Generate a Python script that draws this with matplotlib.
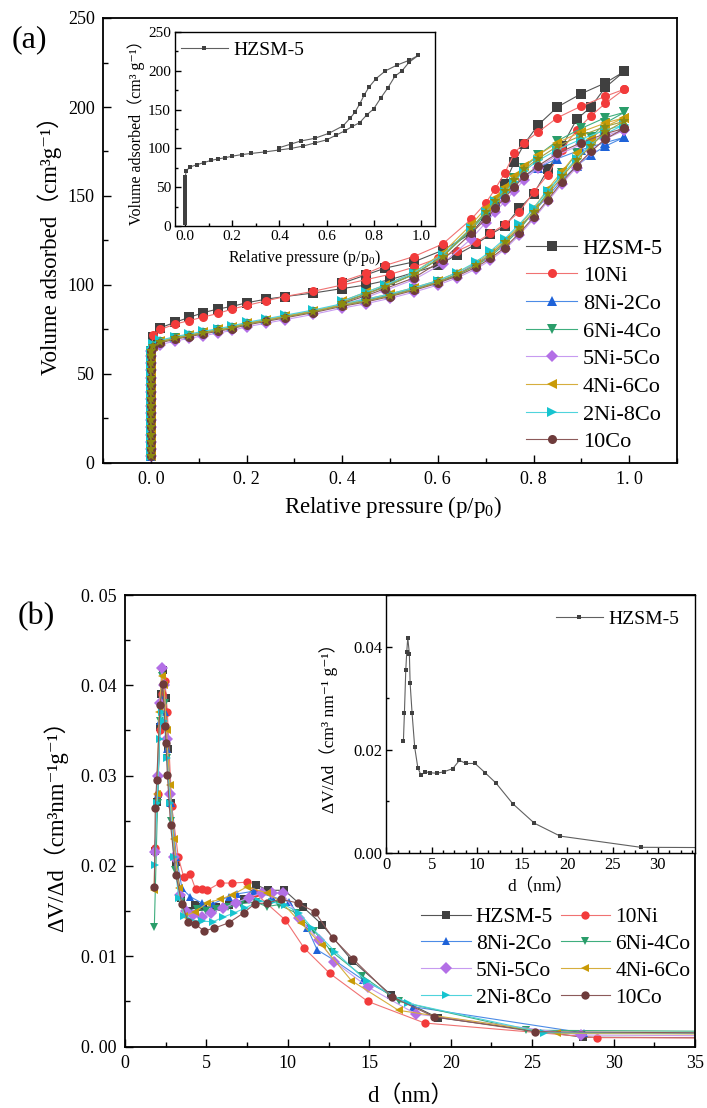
import matplotlib.pyplot as plt
from matplotlib.ticker import MultipleLocator

plt.rcParams['font.family'] = ['Liberation Serif', 'DejaVu Serif', 'Noto Sans CJK SC']
plt.rcParams['mathtext.fontset'] = 'custom'
plt.rcParams['mathtext.rm'] = 'Liberation Serif'
plt.rcParams['mathtext.it'] = 'Liberation Serif:italic'
plt.rcParams['mathtext.default'] = 'regular'

names = ['HZSM-5', '10Ni', '8Ni-2Co', '6Ni-4Co', '5Ni-5Co', '4Ni-6Co', '2Ni-8Co', '10Co']
markers = ['s', 'o', '^', 'v', 'D', '<', '>', 'o']
mcolors = ['#404040', '#F23B3B', '#1E62D8', '#2A9D6A', '#B36FE6', '#C99A06', '#16C4CF', '#6E3B3B']
lcolors = ['#555555', '#F07272', '#4C8BE6', '#3FAE7E', '#C79BF0', '#D6AE3D', '#4FD4DC', '#8C5A5A']

# ---- (a) N2 isotherms: micropore filling at p/p0 ~ 0, adsorption, desorption
p_micro = [0.0] * 16
v_micro = [4, 8, 12, 16, 20, 24, 28, 32, 36, 40, 44, 48, 52, 56, 60, 63]
p_ads = [0.005, 0.02, 0.05, 0.08, 0.11, 0.14, 0.17, 0.20, 0.24, 0.28, 0.34, 0.40, 0.45, 0.50,
         0.55, 0.60, 0.64, 0.68, 0.71, 0.74, 0.77, 0.80, 0.83, 0.86, 0.89, 0.92, 0.95, 0.99]
p_des = [0.99, 0.95, 0.90, 0.85, 0.81, 0.78, 0.76, 0.74, 0.72, 0.70, 0.67, 0.61, 0.55, 0.49, 0.45, 0.40]

ads = {
    'HZSM-5': [71, 76, 79, 81.8, 84.5, 86.5, 88, 90, 92, 93.5, 95.5, 98, 100, 103, 107, 111, 117, 123,
               128.5, 133, 143, 151, 165, 178, 193, 200, 211, 220],
    '10Ni': [72, 75, 78, 80, 82, 84, 86.5, 88.5, 91, 93.5, 96.5, 100, 103, 106, 110, 115, 119, 124,
             129, 134, 141, 152, 162, 176, 187, 195, 202, 210],
    '8Ni-2Co': [66, 68.5, 70.5, 72, 73.5, 75, 76.5, 78.5, 80.5, 82.5, 85.5, 89, 91.5, 94.5, 98, 102, 106, 112,
                117, 124, 132, 141, 150, 159, 167, 173, 178, 183],
    '6Ni-4Co': [66, 68, 70, 71.5, 73, 74.5, 76, 78, 80, 82, 85, 88.5, 91, 94, 97.5, 101.5, 105.5, 111,
                116, 123, 131, 141, 152, 163, 174, 183, 191, 197],
    '5Ni-5Co': [64, 66.5, 68.5, 70, 71.5, 73, 74.5, 76.5, 78.5, 80.5, 83.5, 87, 89.5, 92.5, 96, 100, 104, 109,
                114, 120, 128, 137, 147, 157, 166, 175, 182, 187],
    '4Ni-6Co': [66, 68.5, 70.5, 72, 73.5, 75, 76.5, 78.5, 80.5, 82.5, 85.5, 89, 92, 95, 98.5, 102.5, 107, 112.5,
                118, 125, 133, 143, 154, 164, 174, 182, 189, 194],
    '2Ni-8Co': [67, 69, 71, 72.5, 74, 75.5, 77, 79, 81, 83, 86, 89.5, 92, 95, 98.5, 102.5, 107, 113,
                119, 126, 134, 143, 153, 162, 171, 179, 185, 190],
    '10Co': [65, 67.5, 69.5, 71, 72.5, 74, 75.5, 77.5, 79.5, 81.5, 84.5, 88, 90.5, 93.5, 97, 101, 105, 110,
             115, 121, 129, 138, 148, 158, 167, 175, 182, 188],
}
des = {
    'HZSM-5': [220, 213.5, 207.5, 200, 190, 179, 169, 157, 146.5, 139, 129, 119.5, 113, 109.5, 105.7, 101],
    '10Ni': [210, 206, 200.5, 194, 186, 180, 174, 163, 154, 146, 137, 123, 116, 111, 106.5, 102],
    '8Ni-2Co': [183, 180, 176, 171, 166, 161, 156, 151, 147, 141, 132, 116, 106, 99.5, 95, 90.5],
    '6Ni-4Co': [197, 194, 188, 181, 173, 166, 160, 153, 146, 140, 131, 116, 106, 99, 95, 90],
    '5Ni-5Co': [187, 184, 179, 173, 166, 159, 153, 147, 141, 135, 126, 112, 103, 97, 93, 88.5],
    '4Ni-6Co': [194, 191, 186, 180, 173, 167, 161, 155, 149, 143, 134, 118, 107, 100, 96, 91],
    '2Ni-8Co': [190, 187, 182, 176, 170, 164, 158, 152, 147, 141, 132, 117, 107, 100, 96, 91],
    '10Co': [188, 185, 180, 174, 167, 161, 155, 149, 143, 137, 129, 114, 104, 98, 94, 89.5],
}
# unlabelled olive star series visible in panel (a)
star_ads = [65.5, 68, 70, 71.5, 73, 74.5, 76, 78, 80, 82, 85, 88.5, 91, 94, 97.5, 101.5, 106, 111,
            117, 124, 132, 141, 151, 161, 170, 178, 186, 192]
star_des = [192, 189, 184, 178, 171, 165, 159, 153, 147, 141, 132, 116, 106, 99, 95, 90]

# ---- (b) pore size distributions
psd_d = {
    'HZSM-5': [1.87, 1.98, 2.13, 2.24, 2.35, 2.53, 2.61, 2.83, 3.12, 3.46, 3.82, 4.27, 4.82, 5.56, 6.36,
               7.32, 8.06, 8.8, 9.79, 10.9, 12.1, 13.95, 16.35, 19.2, 28.1, 45],
    '10Ni': [1.85, 2.0, 2.15, 2.3, 2.45, 2.6, 2.87, 3.27, 3.6, 4.0, 4.34, 4.7, 5.06, 5.82, 6.57,
             7.49, 7.98, 9.85, 11.0, 12.57, 14.9, 18.4, 28.99, 45],
    '8Ni-2Co': [1.85, 2.0, 2.15, 2.3, 2.45, 2.6, 2.85, 3.15, 3.5, 4.0, 4.7, 5.4, 6.37, 6.9, 7.9,
                9.02, 10.1, 11.2, 11.8, 12.9, 14.6, 17.7, 28.2, 45],
    '6Ni-4Co': [1.8, 2.0, 2.15, 2.3, 2.45, 2.6, 2.85, 3.1, 3.45, 3.9, 4.4, 5.0, 5.6, 6.3, 7.1,
                8.04, 8.7, 9.43, 10.5, 11.6, 12.7, 14.58, 16.8, 24.6, 45],
    '5Ni-5Co': [1.85, 2.0, 2.15, 2.25, 2.4, 2.55, 2.75, 3.0, 3.35, 3.75, 4.15, 4.7, 5.3, 6.0, 6.79,
                7.6, 8.4, 9.0, 9.68, 10.7, 11.9, 12.85, 14.9, 17.86, 28.0, 45],
    '4Ni-6Co': [1.78, 1.95, 2.1, 2.25, 2.4, 2.55, 2.75, 3.0, 3.3, 3.6, 4.3, 5.06, 5.83, 6.6, 7.5,
                8.7, 9.6, 10.8, 12.1, 13.9, 16.8, 26.5, 45],
    '2Ni-8Co': [1.82, 1.97, 2.12, 2.27, 2.42, 2.57, 2.77, 3.0, 3.3, 3.65, 4.0, 4.7, 5.4, 6.0, 6.7,
                7.35, 8.2, 9.0, 9.8, 10.7, 11.5, 12.9, 14.85, 17.35, 25.7, 45],
    '10Co': [1.80, 1.86, 1.95, 2.15, 2.31, 2.46, 2.52, 2.6, 2.8, 3.12, 3.5, 3.87, 4.29, 4.84, 5.48, 6.37,
             7.29, 7.96, 8.7, 9.57, 10.6, 11.66, 12.77, 14.0, 16.38, 18.97, 25.15, 45],
}
psd_v = {
    'HZSM-5': [0.0217, 0.0271, 0.0354, 0.0390, 0.0417, 0.0386, 0.0329, 0.0270, 0.0204, 0.0165, 0.0150,
               0.0157, 0.0155, 0.0154, 0.0157, 0.0163, 0.0179, 0.0173, 0.0173, 0.0155, 0.0135, 0.0095,
               0.0057, 0.0032, 0.00103, 0.0009],
    '10Ni': [0.022, 0.028, 0.035, 0.039, 0.0405, 0.037, 0.0266, 0.0210, 0.0188, 0.0191, 0.0174, 0.0174,
             0.0173, 0.0181, 0.0181, 0.0182, 0.0170, 0.0140, 0.0109, 0.0081, 0.0050, 0.0026, 0.00098, 0.0009],
    '8Ni-2Co': [0.022, 0.028, 0.036, 0.0385, 0.037, 0.033, 0.027, 0.021, 0.0175, 0.0166, 0.0159, 0.0158,
                0.0166, 0.0169, 0.0172, 0.0166, 0.0160, 0.0131, 0.0107, 0.0095, 0.0074, 0.0044, 0.0015, 0.0014],
    '6Ni-4Co': [0.0132, 0.027, 0.036, 0.041, 0.038, 0.032, 0.025, 0.0195, 0.0160, 0.0148, 0.0152, 0.0150,
                0.0152, 0.0154, 0.0158, 0.0160, 0.0155, 0.0157, 0.0148, 0.0128, 0.0105, 0.0078, 0.0050,
                0.0018, 0.0016],
    '5Ni-5Co': [0.0215, 0.030, 0.038, 0.0419, 0.040, 0.034, 0.028, 0.021, 0.0168, 0.0150, 0.0146, 0.0143,
                0.0148, 0.0153, 0.0159, 0.0165, 0.0170, 0.0170, 0.0170, 0.0142, 0.0118, 0.0094, 0.0066,
                0.0036, 0.00127, 0.0011],
    '4Ni-6Co': [0.0173, 0.028, 0.037, 0.041, 0.040, 0.035, 0.029, 0.023, 0.0175, 0.0144, 0.0149, 0.0159,
                0.0163, 0.0168, 0.0177, 0.0170, 0.0160, 0.0137, 0.0112, 0.0073, 0.0040, 0.00146, 0.0013],
    '2Ni-8Co': [0.0201, 0.027, 0.034, 0.037, 0.036, 0.032, 0.027, 0.021, 0.0165, 0.0145, 0.0140, 0.0139,
                0.0138, 0.0143, 0.0148, 0.0153, 0.0161, 0.0160, 0.0157, 0.0148, 0.0131, 0.0105, 0.0072,
                0.0048, 0.00153, 0.0015],
    '10Co': [0.0177, 0.0264, 0.0295, 0.0378, 0.0401, 0.0355, 0.0336, 0.0301, 0.0245, 0.019, 0.0158, 0.0138,
             0.0136, 0.0128, 0.0131, 0.0137, 0.0148, 0.0158, 0.0159, 0.0163, 0.0159, 0.0149, 0.0120,
             0.0097, 0.0055, 0.0033, 0.00164, 0.0014],
}

W, H = 707, 1108
fig = plt.figure(figsize=(W / 100, H / 100), dpi=100)


def box(l, t, r, b):
    return [l / W, 1 - b / H, (r - l) / W, (b - t) / H]


def style(ax, lw=1.3, size=13):
    for s in ax.spines.values():
        s.set_linewidth(lw)
    ax.tick_params(which='both', direction='in', top=False, right=False, labelsize=size, width=1.0, pad=6)
    ax.tick_params(which='major', length=6)
    ax.tick_params(which='minor', length=3.5)


# ---------------- panel (a)
ax1 = fig.add_axes(box(103, 18, 677, 463))
for i, n in enumerate(names):
    ax1.plot(p_micro + p_ads + p_des, v_micro + ads[n] + des[n], color=lcolors[i], lw=0.8,
             marker=markers[i], ms=6.5, mfc=mcolors[i], mec=mcolors[i], mew=0, label=n)
ax1.plot(p_micro + p_ads + p_des, v_micro + star_ads + star_des, color='#A0A040', lw=0.8,
         marker='*', ms=7, mfc='#8A8A10', mew=0, label='_nolegend_')
ax1.set_xlim(-0.1, 1.1)
ax1.set_ylim(0, 250)
ax1.set_xticks([0, 0.2, 0.4, 0.6, 0.8, 1.0])
ax1.set_xticklabels(['0. 0', '0. 2', '0. 4', '0. 6', '0. 8', '1. 0'])
ax1.xaxis.set_minor_locator(MultipleLocator(0.1))
ax1.yaxis.set_major_locator(MultipleLocator(50))
ax1.yaxis.set_minor_locator(MultipleLocator(25))
style(ax1)
ax1.set_xlabel('Relative pressure (p/p$_0$)', fontsize=16.5)
ax1.xaxis.set_label_coords(0.505, -0.07)
ax1.set_ylabel('Volume adsorbed（cm³g⁻¹）', fontsize=16.5)
ax1.yaxis.set_label_coords(-0.072, 0.5)
ax1.legend(loc='upper left', bbox_to_anchor=(526 / W, 1 - 238 / H), bbox_transform=fig.transFigure,
           frameon=False, fontsize=16, handlelength=2.3, handletextpad=0.25, labelspacing=0.32,
           borderpad=0, borderaxespad=0)
fig.text(12 / W, 1 - 40 / H, '(a)', fontsize=23, va='center')

# inset (a)
ax1i = fig.add_axes(box(175, 32, 435, 226))
ax1i.plot(p_micro + p_ads + p_des, v_micro + ads['HZSM-5'] + des['HZSM-5'], color='#606060', lw=0.8,
          marker='s', ms=2.3, mfc='#404040', mew=0, label='HZSM-5')
ax1i.set_xlim(-0.043, 1.06)
ax1i.set_ylim(0, 250)
ax1i.xaxis.set_major_locator(MultipleLocator(0.2))
ax1i.xaxis.set_minor_locator(MultipleLocator(0.1))
ax1i.yaxis.set_major_locator(MultipleLocator(50))
ax1i.yaxis.set_minor_locator(MultipleLocator(25))
style(ax1i, lw=1.0, size=11)
ax1i.tick_params(which='both', pad=3)
ax1i.tick_params(which='major', length=4)
ax1i.tick_params(which='minor', length=2.5)
ax1i.set_xlabel('Relative pressure (p/p$_0$)', fontsize=11.5)
ax1i.xaxis.set_label_coords(0.5, -0.115)
ax1i.set_ylabel('Volume adsorbed（cm³ g⁻¹）', fontsize=11.5)
ax1i.yaxis.set_label_coords(-0.115, 0.5)
ax1i.legend(loc='upper left', bbox_to_anchor=(181 / W, 1 - 41 / H), bbox_transform=fig.transFigure,
            frameon=False, fontsize=14, handlelength=2.4, handletextpad=0.3, borderpad=0, borderaxespad=0)

# ---------------- panel (b)
ax2 = fig.add_axes(box(125, 595, 695, 1046.5))
lines = []
for i, n in enumerate(names):
    ln, = ax2.plot(psd_d[n], psd_v[n], color=lcolors[i], lw=0.8, marker=markers[i], ms=6,
                   mfc=mcolors[i], mec=mcolors[i], mew=0, label=n)
    lines.append(ln)
ax2.set_xlim(0, 35)
ax2.set_ylim(0, 0.05)
ax2.xaxis.set_major_locator(MultipleLocator(5))
ax2.xaxis.set_minor_locator(MultipleLocator(2.5))
ax2.set_yticks([0, 0.01, 0.02, 0.03, 0.04, 0.05])
ax2.set_yticklabels(['0. 00', '0. 01', '0. 02', '0. 03', '0. 04', '0. 05'])
ax2.yaxis.set_minor_locator(MultipleLocator(0.005))
style(ax2)
ax2.set_xlabel('d（nm）', fontsize=16.5)
ax2.xaxis.set_label_coords(0.5, -0.085)
ax2.set_ylabel('ΔV/Δd（cm³nm⁻¹g⁻¹）', fontsize=16.5)
ax2.yaxis.set_label_coords(-0.1, 0.5)
order = [0, 2, 4, 6, 1, 3, 5, 7]
ax2.legend([lines[k] for k in order], [names[k] for k in order], ncol=2, loc='upper left',
           bbox_to_anchor=(421 / W, 1 - 907 / H), bbox_transform=fig.transFigure, frameon=False,
           fontsize=15.5, handlelength=2.3, handletextpad=0.25, labelspacing=0.32, columnspacing=0.35,
           borderpad=0, borderaxespad=0)
fig.text(18 / W, 1 - 617 / H, '(b)', fontsize=23, va='center')

# inset (b)
ax2i = fig.add_axes(box(386.5, 595, 695, 852.6))
ax2i.plot(psd_d['HZSM-5'], psd_v['HZSM-5'], color='#606060', lw=0.8, marker='s', ms=2.3,
          mfc='#404040', mew=0, label='HZSM-5')
ax2i.set_xlim(0, 34.1)
ax2i.set_ylim(0, 0.05)
ax2i.xaxis.set_major_locator(MultipleLocator(5))
ax2i.xaxis.set_minor_locator(MultipleLocator(1.25))
ax2i.yaxis.set_major_locator(MultipleLocator(0.02))
ax2i.yaxis.set_minor_locator(MultipleLocator(0.01))
style(ax2i, lw=1.0, size=12)
ax2i.tick_params(which='both', pad=3)
ax2i.tick_params(which='major', length=4)
ax2i.tick_params(which='minor', length=2.5)
ax2i.set_xlabel('d（nm）', fontsize=12.5)
ax2i.xaxis.set_label_coords(0.5, -0.1)
ax2i.set_ylabel('ΔV/Δd（cm³ nm⁻¹ g⁻¹）', fontsize=12.5)
ax2i.yaxis.set_label_coords(-0.157, 0.5)
ax2i.legend(loc='upper left', bbox_to_anchor=(556 / W, 1 - 610 / H), bbox_transform=fig.transFigure,
            frameon=False, fontsize=14, handlelength=2.4, handletextpad=0.3, borderpad=0, borderaxespad=0)

fig.savefig('out.png', dpi=100)
